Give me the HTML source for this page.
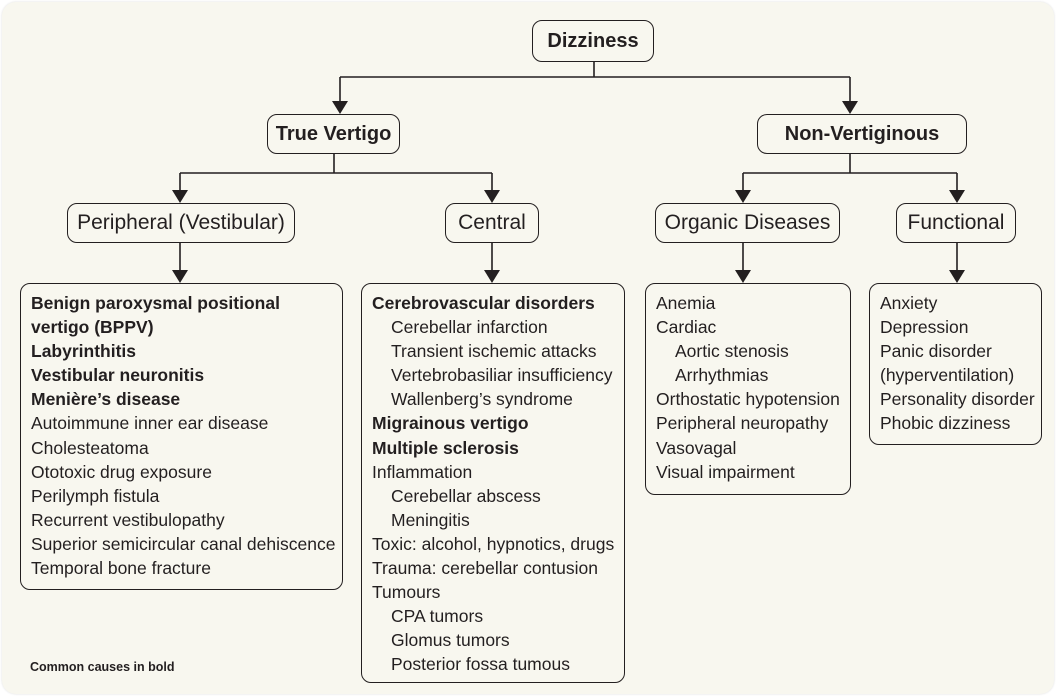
<!DOCTYPE html>
<html><head><meta charset="utf-8"><style>
body{margin:0;width:1057px;height:697px;background:#fff;position:relative;overflow:hidden;font-family:"Liberation Sans Narrow","Liberation Sans",sans-serif;color:#231f20}
.panel{position:absolute;left:2px;top:2px;width:1052px;height:692px;background:#f8f7ef;border-radius:14px;box-shadow:0 0 2px #ddd}
.b{position:absolute;border:1.6px solid #231f20;border-radius:10px;box-sizing:border-box;background:#f8f7ef}
.h{display:flex;align-items:center;justify-content:center;font-size:21px}
.l{font-size:17.5px;line-height:24.1px;padding:7px 0 0 10px;white-space:nowrap}
.l b{font-weight:bold}
.i{padding-left:19px}
svg{position:absolute;left:0;top:0}
</style></head><body>
<div class="panel"></div>
<svg width="1057" height="697">
<g stroke="#231f20" stroke-width="1.6" fill="none">
<path d="M594 62V77M340 77H850M340 77V102M850 77V102"/>
<path d="M334 153V173M180 173H492M180 173V192M492 173V192"/>
<path d="M850 153V173M743 173H957M743 173V192M957 173V192"/>
<path d="M180 242V272M492 242V272M743 242V272M957 242V272"/>
</g>
<g fill="#231f20">
<path d="M332 101h16l-8 13z"/><path d="M842 101h16l-8 13z"/>
<path d="M172 190h16l-8 13z"/><path d="M484 190h16l-8 13z"/>
<path d="M735 190h16l-8 13z"/><path d="M949 190h16l-8 13z"/>
<path d="M172 270h16l-8 13z"/><path d="M484 270h16l-8 13z"/>
<path d="M735 270h16l-8 13z"/><path d="M949 270h16l-8 13z"/>
</g>
</svg>
<div class="b h" style="left:532px;top:20px;width:122px;height:42px;font-weight:bold;font-size:20px">Dizziness</div>
<div class="b h" style="left:267px;top:114px;width:133px;height:40px;font-weight:bold;font-size:20px">True Vertigo</div>
<div class="b h" style="left:757px;top:114px;width:210px;height:40px;font-weight:bold;font-size:20px">Non-Vertiginous</div>
<div class="b h" style="left:67px;top:203px;width:228px;height:40px">Peripheral (Vestibular)</div>
<div class="b h" style="left:445px;top:203px;width:94px;height:40px">Central</div>
<div class="b h" style="left:655px;top:203px;width:185px;height:40px">Organic Diseases</div>
<div class="b h" style="left:896px;top:203px;width:120px;height:40px">Functional</div>
<div class="b l" style="left:20px;top:283px;width:323px;height:307px">
<b>Benign paroxysmal positional</b><br><b>vertigo (BPPV)</b><br><b>Labyrinthitis</b><br><b>Vestibular neuronitis</b><br><b>Menière’s disease</b><br>Autoimmune inner ear disease<br>Cholesteatoma<br>Ototoxic drug exposure<br>Perilymph fistula<br>Recurrent vestibulopathy<br>Superior semicircular canal dehiscence<br>Temporal bone fracture</div>
<div class="b l" style="left:361px;top:283px;width:264px;height:400px">
<b>Cerebrovascular disorders</b><br><div class="i">Cerebellar infarction<br>Transient ischemic attacks<br>Vertebrobasiliar insufficiency<br>Wallenberg’s syndrome</div><b>Migrainous vertigo</b><br><b>Multiple sclerosis</b><br>Inflammation<br><div class="i">Cerebellar abscess<br>Meningitis</div>Toxic: alcohol, hypnotics, drugs<br>Trauma: cerebellar contusion<br>Tumours<br><div class="i">CPA tumors<br>Glomus tumors<br>Posterior fossa tumous</div></div>
<div class="b l" style="left:645px;top:283px;width:206px;height:212px">
Anemia<br>Cardiac<br><div class="i">Aortic stenosis<br>Arrhythmias</div>Orthostatic hypotension<br>Peripheral neuropathy<br>Vasovagal<br>Visual impairment</div>
<div class="b l" style="left:869px;top:283px;width:173px;height:162px">
Anxiety<br>Depression<br>Panic disorder<br>(hyperventilation)<br>Personality disorder<br>Phobic dizziness</div>
<div style="position:absolute;left:30px;top:660px;font-size:12.5px;font-weight:bold">Common causes in bold</div>
</body></html>
